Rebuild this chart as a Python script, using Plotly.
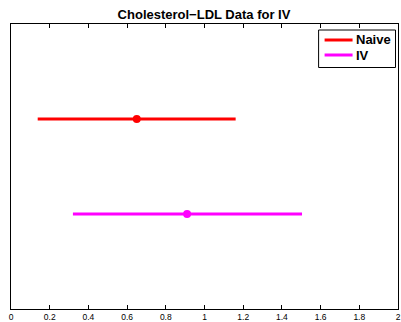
import plotly.graph_objects as go

series = ["Naive", "IV"]
estimates = [0.650, 0.910]
lower = [0.138, 0.320]
upper = [1.161, 1.504]
positions = [2, 1]
colors = ["#ff0000", "#ff00ff"]
x_ticks = [0, 0.2, 0.4, 0.6, 0.8, 1, 1.2, 1.4, 1.6, 1.8, 2]

W, H = 401, 322
L, R, T, B = 11, 2.5, 24, 13
PW, PH = W - L - R, H - T - B


def px(x):
    return (x - L) / PW


def py(y):
    return (H - B - y) / PH


fig = go.Figure()
for name, est, lo, hi, pos, col in zip(series, estimates, lower, upper, positions, colors):
    fig.add_trace(go.Scatter(x=[lo, hi], y=[pos, pos], mode="lines", name=name,
                             showlegend=False, line=dict(color=col, width=3)))
for name, est, pos, col in zip(series, estimates, positions, colors):
    fig.add_trace(go.Scatter(x=[est], y=[pos], mode="markers", showlegend=False,
                             marker=dict(color=col, size=8, line=dict(width=0))))

# manual legend (MATLAB style)
shapes = [dict(type="rect", xref="paper", yref="paper", x0=px(319), x1=px(396),
               y0=py(67.5), y1=py(30), line=dict(color="black", width=1),
               fillcolor="white", layer="above")]
annotations = []
for i, (name, col) in enumerate(zip(series, colors)):
    yy = 40 + 15 * i
    shapes.append(dict(type="line", xref="paper", yref="paper", x0=px(325), x1=px(353),
                       y0=py(yy), y1=py(yy), line=dict(color=col, width=3), layer="above"))
    annotations.append(dict(text=f"<b>{name}</b>", xref="paper", yref="paper",
                            x=px(355.5), y=py(yy), xanchor="left", yanchor="middle",
                            showarrow=False, font=dict(size=13, color="black"),
                            borderpad=0))

fig.update_layout(
    width=W, height=H,
    margin=dict(l=L, r=R, t=T, b=B, autoexpand=False),
    plot_bgcolor="white", paper_bgcolor="white",
    font=dict(family="Liberation Sans, Arial", color="black"),
    title=dict(text="<b>Cholesterol\u2212LDL Data for IV</b>", x=204 / W, xanchor="center",
               xref="container", yref="container",
               y=1 - 14.5 / H, yanchor="middle", font=dict(size=13)),
    showlegend=False,
    shapes=shapes,
    annotations=annotations,
    xaxis=dict(range=[0, 2], tickvals=x_ticks, ticktext=[f"{v:g}" for v in x_ticks],
               ticks="inside", ticklen=4, tickcolor="black", showline=True,
               linecolor="black", linewidth=1, mirror="ticks", showgrid=False,
               zeroline=False, tickfont=dict(size=8.5), automargin=False),
    yaxis=dict(range=[0, 3], showticklabels=False, ticks="", showline=True,
               linecolor="black", linewidth=1, mirror=True, showgrid=False,
               zeroline=False, automargin=False),
)
fig.write_html("out.html")
